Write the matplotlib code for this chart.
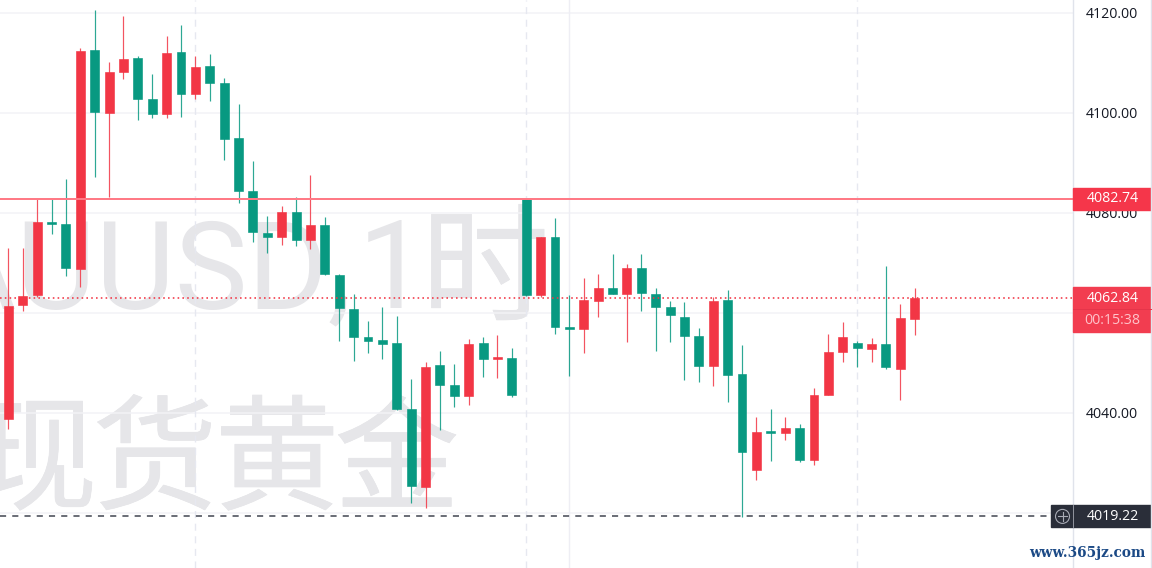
#!/usr/bin/env python3
"""Hourly gold candlesticks with price tags, drawn in a trading terminal look."""

import matplotlib
matplotlib.use("Agg")
import matplotlib.pyplot as plt
import matplotlib.patheffects as pe
from matplotlib.patches import Circle, Rectangle

WIDTH, HEIGHT = 1152, 568
PLOT_RIGHT = 1073

opens = [4038.8, 4061.6, 4063.5, 4078.1, 4077.7, 4068.8, 4112.5, 4100.0, 4108.2, 4110.8,
         4102.7, 4099.8, 4112.1, 4103.8, 4109.2, 4106.0, 4095.0, 4084.3, 4075.9, 4075.2,
         4080.0, 4074.5, 4077.6, 4067.6, 4060.6, 4055.1, 4054.5, 4053.8, 4040.7, 4025.1,
         4049.4, 4045.5, 4043.3, 4053.8, 4050.7, 4050.8, 4082.7, 4063.6, 4075.0, 4057.1,
         4056.7, 4062.4, 4065.0, 4063.8, 4069.0, 4063.6, 4061.1, 4059.2, 4055.3, 4049.3,
         4062.5, 4047.7, 4028.5, 4036.3, 4036.0, 4037.0, 4030.5, 4043.5, 4052.1, 4053.9,
         4052.8, 4053.7, 4048.8, 4058.8]
highs = [4072.9, 4073.0, 4083.0, 4082.8, 4086.7, 4112.9, 4120.5, 4110.1, 4119.3, 4111.3,
         4107.8, 4115.4, 4117.5, 4111.3, 4111.7, 4107.0, 4101.6, 4090.4, 4079.4, 4081.4,
         4083.2, 4087.5, 4079.2, 4067.7, 4063.8, 4058.3, 4061.1, 4059.3, 4046.8, 4050.2,
         4052.4, 4049.7, 4054.7, 4055.1, 4055.5, 4053.0, 4082.8, 4075.1, 4079.0, 4063.5,
         4067.0, 4067.8, 4071.8, 4069.8, 4071.8, 4065.0, 4062.4, 4062.1, 4057.0, 4063.1,
         4064.5, 4053.6, 4039.2, 4040.8, 4039.2, 4037.7, 4045.0, 4055.7, 4058.2, 4054.4,
         4055.0, 4069.3, 4061.8, 4064.9]
lows = [4036.7, 4060.4, 4063.2, 4075.7, 4067.3, 4065.2, 4087.2, 4083.2, 4106.6, 4098.5,
        4099.0, 4099.0, 4099.1, 4102.6, 4102.3, 4090.5, 4082.0, 4074.2, 4071.9, 4073.5,
        4073.4, 4072.8, 4067.5, 4054.4, 4050.3, 4052.0, 4050.7, 4040.5, 4021.9, 4020.9,
        4036.6, 4041.2, 4041.6, 4047.1, 4046.9, 4043.2, 4063.3, 4063.2, 4055.7, 4047.4,
        4052.0, 4059.2, 4063.8, 4054.1, 4060.4, 4052.4, 4054.2, 4046.5, 4046.1, 4045.4,
        4042.2, 4019.2, 4026.6, 4030.4, 4034.6, 4030.2, 4029.6, 4043.5, 4050.2, 4049.1,
        4050.2, 4048.7, 4042.5, 4055.6]
closes = [4061.4, 4063.3, 4078.2, 4077.8, 4069.0, 4112.4, 4100.2, 4108.1, 4110.7, 4102.7,
          4099.8, 4112.0, 4103.6, 4109.1, 4105.9, 4094.8, 4084.4, 4076.2, 4075.2, 4080.0,
          4074.5, 4077.6, 4067.8, 4061.0, 4055.2, 4054.4, 4053.7, 4040.7, 4025.3, 4049.2,
          4045.6, 4043.3, 4053.7, 4050.7, 4051.0, 4043.5, 4063.6, 4075.0, 4057.2, 4056.7,
          4062.5, 4065.0, 4063.8, 4068.9, 4063.9, 4061.2, 4059.5, 4055.3, 4049.3, 4062.4,
          4047.6, 4032.2, 4036.2, 4036.0, 4036.9, 4030.5, 4043.4, 4052.0, 4055.2, 4052.9,
          4053.8, 4049.2, 4058.8, 4062.84]

price_ticks = [4120, 4100, 4080, 4060, 4040, 4020]
price_labels = ["4120.00", "4100.00", "4080.00", "", "4040.00", ""]
time_gridlines = [13, 36, 39, 59]
time_dashed = [True, True, False, True]
high_line = 4082.74
last_price = 4062.84
low_line = 4019.22
countdown = "00:15:38"
site_text = "www.365jz.com"

UP = "#F23645"
DOWN = "#089981"
PX = 0.72  # one pixel in points at dpi 100
CJK = ["Noto Sans CJK SC", "DejaVu Sans"]
LABEL_SIZE = 10.2


def y_px(price):
    return (4122.5 - price) * 5


def watermark(ax, text, x, baseline, ha, size, family, stroke=0.0):
    effects = [pe.withStroke(linewidth=stroke, foreground="#E6E6E9")] if stroke else None
    ax.annotate(text, xy=(x, HEIGHT - baseline), xycoords="figure pixels", ha=ha, va="baseline",
                fontsize=size, color="#E6E6E9", family=family, zorder=0.5, path_effects=effects)


def main():
    plt.rcParams["font.family"] = ["Open Sans", "DejaVu Sans"]
    fig = plt.figure(figsize=(WIDTH / 100, HEIGHT / 100), dpi=100, facecolor="white")
    ax = fig.add_axes([0, 0, PLOT_RIGHT / WIDTH, 1])
    ax.set_xlim(-0.584, (PLOT_RIGHT - 8.4) / 14.385)
    ax.set_ylim(4122.5 - HEIGHT / 5, 4122.5)
    ax.set_xticks([])
    for name, spine in ax.spines.items():
        spine.set_visible(name == "right")
    ax.spines["right"].set_color("#E0E3EB")
    ax.spines["right"].set_linewidth(1.4 * PX)

    ax.yaxis.tick_right()
    ax.set_yticks(price_ticks, price_labels, fontsize=LABEL_SIZE, color="#131722")
    ax.tick_params(axis="y", length=0, pad=9.5)
    ax.set_axisbelow(True)
    ax.grid(axis="y", color="#F2F2F6", linewidth=1.5 * PX)

    for idx, dashed in zip(time_gridlines, time_dashed):
        ax.axvline(idx, color="#E6E8F0" if dashed else "#EEEEF4", linewidth=1.4 * PX,
                   linestyle=(0, (5, 4)) if dashed else "-", zorder=1)

    # watermark pieces are placed one by one, the original font has other widths
    watermark(ax, "XAUUSD,", 352, 308, "right", 88, "Roboto")
    watermark(ax, "1", 358, 308, "left", 88, "Roboto")
    watermark(ax, "时", 485, 311, "center", 92, CJK, stroke=0.5)
    for ch, center in zip("现货黄金", [35, 155, 277, 397]):
        watermark(ax, ch, center, 500, "center", 90, CJK, stroke=0.5)

    xs = range(len(opens))
    colors = [UP if c >= o else DOWN for o, c in zip(opens, closes)]
    ax.vlines(xs, lows, highs, colors=colors, linewidth=1.2 * PX, alpha=0.85, zorder=3)
    bottoms = [min(o, c) for o, c in zip(opens, closes)]
    heights = [abs(o - c) for o, c in zip(opens, closes)]
    ax.bar(xs, heights, bottom=bottoms, width=0.62, color=colors, edgecolor=colors,
           linewidth=0.6 * PX, zorder=4)

    ax.axhline(high_line, color="#FF7A86", linewidth=2 * PX, zorder=5)
    ax.axhline(last_price, color=UP, linewidth=1.6 * PX, linestyle=(0, (1, 2)), zorder=5)
    ax.axhline(low_line, color="#5D606B", linewidth=1.8 * PX, linestyle=(0, (3.4, 3.4)), zorder=5)

    # overlay in pixel coordinates for the axis tags and the logo text
    ui = fig.add_axes([0, 0, 1, 1], facecolor="none", zorder=5)
    ui.set_xlim(0, WIDTH)
    ui.set_ylim(HEIGHT, 0)
    ui.axis("off")
    ui.plot([WIDTH - 0.7] * 2, [0, HEIGHT], color="#E0E3EB", linewidth=1.4 * PX)

    tag_w = WIDTH - 1 - PLOT_RIGHT
    text_x = PLOT_RIGHT + tag_w / 2 + 0.5
    y = y_px(high_line)
    ui.add_patch(Rectangle((PLOT_RIGHT, y - 11), tag_w, 22.5, color="#F5364A"))
    ui.text(text_x, y, f"{high_line:.2f}", color="white", fontsize=LABEL_SIZE, ha="center", va="center")

    y = y_px(last_price)
    ui.add_patch(Rectangle((PLOT_RIGHT, y - 11), tag_w, 45, color="#F23D50"))
    ui.plot([PLOT_RIGHT, PLOT_RIGHT + tag_w], [y + 11] * 2, color="#E5354A", linewidth=PX)
    ui.text(text_x, y, f"{last_price:.2f}", color="white", fontsize=LABEL_SIZE, ha="center", va="center")
    ui.text(text_x, y + 22.5, countdown, color="#FFC4CB", fontsize=LABEL_SIZE, ha="center", va="center")

    y = y_px(low_line)
    ui.add_patch(Rectangle((1051, y - 11), WIDTH - 1 - 1051, 22, color="#2A2E39"))
    ui.add_patch(Circle((1062.5, y), 7, fill=False, edgecolor="#A8ABB5", linewidth=1.1 * PX))
    ui.plot([1058, 1067], [y, y], color="#A8ABB5", linewidth=1.1 * PX)
    ui.plot([1062.5, 1062.5], [y - 4.5, y + 4.5], color="#A8ABB5", linewidth=1.1 * PX)
    ui.plot([PLOT_RIGHT, PLOT_RIGHT], [y - 11, y + 11], color="#A8ABB5", linewidth=0.8 * PX)
    ui.text(text_x, y, f"{low_line:.2f}", color="white", fontsize=LABEL_SIZE, ha="center", va="center")

    ui.text(1087.5, 552.5, site_text, color="#1C4A86", fontsize=9.8, fontweight="bold",
            family="DejaVu Serif", ha="center", va="center")

    fig.savefig("out.png", dpi=100, facecolor="white")
    plt.close(fig)


if __name__ == "__main__":
    main()
